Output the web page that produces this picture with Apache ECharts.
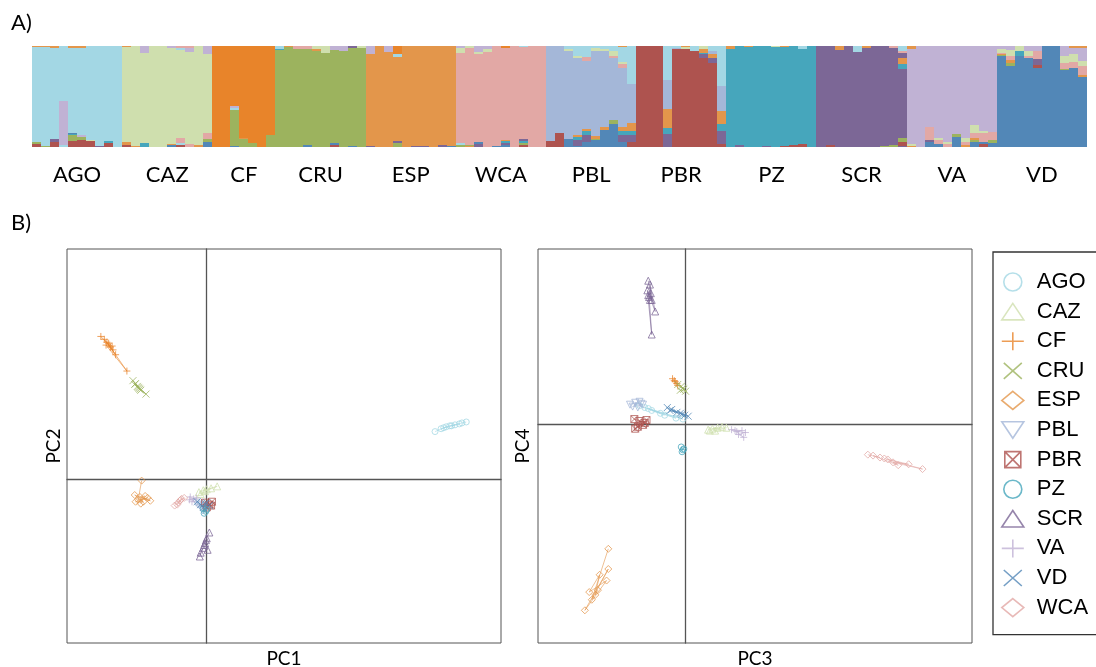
<!DOCTYPE html>
<html><head><meta charset="utf-8">
<script src="https://cdn.jsdelivr.net/npm/echarts@6/dist/echarts.min.js"></script>
<style>html,body{margin:0;padding:0;background:#fff}#c{width:1096px;height:667px}</style>
</head><body><div id="c"></div>
<script>
// ---------- clusters / populations ----------
const clusters = ['AGO','CAZ','CF','CRU','ESP','WCA','PBL','PBR','PZ','SCR','VA','VD'];
const legendOrder = ['AGO','CAZ','CF','CRU','ESP','PBL','PBR','PZ','SCR','VA','VD','WCA'];
const colors = {AGO:'#a3d7e4',CAZ:'#cfdfae',CF:'#e8842a',CRU:'#9cb35e',ESP:'#e3964b',WCA:'#e2a8a5',
  PBL:'#a4b7d8',PBR:'#ae534f',PZ:'#46a6bc',SCR:'#7c6796',VA:'#c0b2d4',VD:'#5287b7'};

// ---------- Panel A: admixture proportions (segments bottom -> top) ----------
const q_AGO = [
 ['PBR',.03,'CRU',.02,'AGO',.94,'ESP',.01],
 ['CRU',.01,'AGO',.98,'ESP',.01],
 ['PBR',.05,'SCR',.025,'AGO',.91,'ESP',.015],
 ['AGO',.02,'VA',.44,'AGO',.54],
 ['PBR',.06,'CRU',.055,'PZ',.015,'VD',.01,'AGO',.84,'ESP',.02],
 ['PBR',.065,'CRU',.035,'VA',.02,'AGO',.86,'ESP',.02],
 ['PBR',.055,'CAZ',.01,'AGO',.935],
 ['SCR',.01,'AGO',.99],
 ['PBR',.04,'PZ',.02,'AGO',.94],
 ['AGO',1]];
const q_CAZ = [
 ['PBR',.02,'ESP',.03,'CAZ',.94,'ESP',.01],
 ['ESP',.01,'CAZ',.99],
 ['PZ',.04,'CAZ',.893,'VA',.067],
 ['CAZ',1],
 ['CAZ',1],
 ['VD',.015,'ESP',.01,'CAZ',.955,'VA',.02],
 ['PBR',.015,'AGO',.025,'WCA',.045,'CAZ',.88,'AGO',.02,'WCA',.015],
 ['WCA',.025,'CAZ',.92,'VA',.04,'WCA',.015],
 ['ESP',.015,'CAZ',.985],
 ['VD',.05,'CRU',.025,'WCA',.065,'CAZ',.78,'VA',.08]];
const q_CF = [
 ['CF',1],
 ['CF',1],
 ['VD',.01,'CRU',.36,'AGO',.02,'VA',.02,'CF',.59],
 ['CRU',.08,'ESP',.01,'CF',.91],
 ['CRU',.04,'CF',.96],
 ['CF',1],
 ['CRU',.12,'CF',.88]];
const q_CRU = [
 ['CRU',.96,'PZ',.01,'AGO',.03],
 ['CRU',.99,'ESP',.01],
 ['CRU',.97,'WCA',.03],
 ['VD',.015,'CRU',.96,'WCA',.025],
 ['CRU',.95,'ESP',.02,'CAZ',.03],
 ['CRU',.935,'CAZ',.065],
 ['PBR',.02,'VD',.015,'CRU',.93,'VA',.035],
 ['CRU',.955,'VA',.045],
 ['VD',.01,'CRU',.97,'SCR',.02],
 ['CRU',.98,'CAZ',.02]];
const q_ESP = [
 ['SCR',.01,'ESP',.907,'VA',.083],
 ['ESP',1],
 ['ESP',.943,'VA',.057],
 ['CRU',.04,'SCR',.02,'ESP',.83,'AGO',.03,'CF',.08],
 ['ESP',1],
 ['SCR',.01,'ESP',.99],
 ['SCR',.01,'ESP',.99],
 ['ESP',1],
 ['SCR',.02,'ESP',.98],
 ['VD',.01,'ESP',.99]];
const q_WCA = [
 ['CRU',.02,'AGO',.02,'WCA',.89,'CAZ',.05,'VA',.02],
 ['ESP',.01,'CRU',.01,'WCA',.96,'CAZ',.02],
 ['SCR',.03,'VD',.02,'WCA',.84,'CAZ',.02,'VA',.06],
 ['WCA',.94,'CAZ',.03,'VA',.03],
 ['VD',.01,'WCA',.99],
 ['VD',.02,'SCR',.02,'PZ',.02,'ESP',.01,'WCA',.91,'CF',.02],
 ['WCA',1],
 ['PBR',.02,'CRU',.015,'PZ',.02,'SCR',.025,'WCA',.915,'AGO',.005],
 ['WCA',1],
 ['WCA',1]];
const q_PBL = [
 ['PBR',.057,'PBL',.943],
 ['PBR',.143,'PBL',.857],
 ['VD',.083,'PBL',.867,'CAZ',.02,'AGO',.03],
 ['VD',.01,'SCR',.057,'PZ',.033,'ESP',.017,'PBL',.766,'CAZ',.017,'AGO',.1],
 ['VD',.05,'SCR',.073,'PZ',.033,'ESP',.027,'PBL',.667,'WCA',.04,'AGO',.11],
 ['VD',.067,'CRU',.017,'ESP',.023,'PBL',.843,'CAZ',.033,'AGO',.017],
 ['VD',.173,'ESP',.027,'PBL',.75,'CAZ',.02,'AGO',.03],
 ['VD',.227,'CRU',.04,'PBL',.61,'WCA',.027,'CAZ',.05,'AGO',.046],
 ['VD',.05,'SCR',.067,'PZ',.04,'ESP',.04,'PBL',.59,'WCA',.033,'CAZ',.017,'AGO',.15,'ESP',.013],
 ['PBR',.05,'SCR',.067,'PZ',.04,'ESP',.077,'PBL',.39,'AGO',.377]];
const q_PBR = [
 ['PBR',1],
 ['PBR',1],
 ['PBR',1],
 ['SCR',.133,'PZ',.057,'ESP',.187,'PBL',.29,'AGO',.333],
 ['PBR',.973,'PBL',.01,'AGO',.017],
 ['PBR',.967,'CAZ',.02,'ESP',.013],
 ['PBR',.95,'AGO',.05],
 ['PBR',.883,'SCR',.033,'PZ',.017,'ESP',.033,'CAZ',.034],
 ['PBR',.833,'SCR',.05,'ESP',.033,'PBL',.034,'AGO',.05],
 ['PBR',.033,'SCR',.123,'PZ',.067,'ESP',.133,'PBL',.244,'AGO',.4]];
const q_PZ = [
 ['PZ',.973,'ESP',.027],
 ['SCR',.02,'PZ',.98],
 ['PZ',.99,'ESP',.01],
 ['PZ',1],
 ['SCR',.01,'PZ',.99],
 ['PZ',.99,'CAZ',.01],
 ['PBR',.01,'PZ',.98,'ESP',.01],
 ['PBR',.02,'PZ',.98],
 ['PBR',.033,'PZ',.934,'AGO',.033],
 ['PZ',1]];
const q_SCR = [
 ['SCR',1],
 ['PBR',.02,'SCR',.98],
 ['SCR',.96,'ESP',.04],
 ['SCR',1],
 ['SCR',.94,'AGO',.06],
 ['SCR',.977,'ESP',.023],
 ['SCR',1],
 ['CRU',.01,'SCR',.99],
 ['CRU',.017,'SCR',.96,'WCA',.023],
 ['SCR',.01,'PBR',.04,'CRU',.043,'SCR',.683,'PZ',.05,'ESP',.057,'SCR',.05,'WCA',.017,'AGO',.05]];
const q_VA = [
 ['ESP',.01,'CAZ',.017,'VA',.946,'ESP',.027],
 ['VA',1],
 ['VD',.05,'SCR',.023,'WCA',.127,'VA',.8],
 ['VD',.027,'WCA',.04,'CAZ',.023,'VA',.91],
 ['WCA',.027,'CAZ',.023,'VA',.95],
 ['VD',.1,'CRU',.033,'VA',.867],
 ['ESP',.017,'WCA',.033,'CAZ',.04,'VA',.91],
 ['VD',.05,'CRU',.017,'ESP',.023,'WCA',.05,'CAZ',.077,'VA',.783],
 ['PBR',.027,'VD',.023,'WCA',.093,'CAZ',.02,'VA',.837],
 ['VD',.04,'CRU',.033,'WCA',.077,'VA',.85]];
const q_VD = [
 ['VD',.9,'CRU',.01,'ESP',.01,'WCA',.013,'CAZ',.034,'VA',.033],
 ['VD',.8,'CRU',.033,'ESP',.027,'WCA',.04,'CAZ',.06,'VA',.04],
 ['VD',.9,'PZ',.05,'CAZ',.05],
 ['VD',.877,'WCA',.023,'CAZ',.05,'VA',.05],
 ['VD',.783,'PBR',.033,'SCR',.05,'WCA',.083,'VA',.05],
 ['VD',1],
 ['VD',1],
 ['VD',.767,'CRU',.01,'WCA',.05,'CAZ',.073,'VA',.1],
 ['VD',.783,'WCA',.057,'CAZ',.077,'VA',.067,'ESP',.016],
 ['VD',.693,'ESP',.023,'WCA',.083,'CAZ',.057,'VA',.12,'ESP',.024]];
const popOrder = ['AGO','CAZ','CF','CRU','ESP','WCA','PBL','PBR','PZ','SCR','VA','VD'];
const popQ = {AGO:q_AGO,CAZ:q_CAZ,CF:q_CF,CRU:q_CRU,ESP:q_ESP,WCA:q_WCA,PBL:q_PBL,PBR:q_PBR,PZ:q_PZ,SCR:q_SCR,VA:q_VA,VD:q_VD};

// ---------- Panel B: PCA scores ----------
const pc12_AGO = [[0.264,0.050],[0.277,0.055],[0.271,0.053],[0.287,0.057],[0.274,0.054],[0.281,0.056],[0.292,0.058],[0.283,0.056],[0.295,0.059],[0.300,0.060]];
const pc12_CAZ = [[-0.008,-0.013],[0.001,-0.010],[-0.003,-0.011],[0.013,-0.007],[-0.001,-0.012],[0.006,-0.009],[-0.006,-0.015]];
const pc12_CF  = [[-0.121,0.149],[-0.110,0.138],[-0.117,0.146],[-0.104,0.130],[-0.114,0.143],[-0.091,0.113],[-0.115,0.140],[-0.107,0.135],[-0.112,0.142],[-0.108,0.139]];
const pc12_CRU = [[-0.084,0.103],[-0.079,0.097],[-0.082,0.099],[-0.076,0.094],[-0.081,0.100],[-0.069,0.089],[-0.077,0.095],[-0.078,0.096],[-0.075,0.093]];
const pc12_ESP = [[-0.074,-0.001],[-0.078,-0.021],[-0.067,-0.019],[-0.081,-0.023],[-0.072,-0.023],[-0.082,-0.016],[-0.064,-0.022],[-0.076,-0.018],[-0.070,-0.017],[-0.075,-0.025]];
const pc12_PBL = [[-0.011,-0.024],[-0.002,-0.030],[-0.009,-0.026],[0.000,-0.029],[-0.004,-0.032],[-0.007,-0.027]];
const pc12_PBR = [[-0.001,-0.024],[0.004,-0.026],[0.007,-0.023],[0.001,-0.029],[0.006,-0.027]];
const pc12_PZ  = [[-0.003,-0.030],[0.000,-0.033],[-0.002,-0.035],[0.001,-0.031]];
const pc12_SCR = [[0.004,-0.055],[0.001,-0.061],[-0.001,-0.066],[0.002,-0.073],[-0.003,-0.071],[-0.006,-0.076],[-0.007,-0.080],[-0.002,-0.068],[0.000,-0.063]];
const pc12_VA  = [[-0.018,-0.018],[-0.014,-0.020],[-0.016,-0.023],[-0.011,-0.019],[-0.019,-0.021]];
const pc12_VD  = [[-0.010,-0.023],[-0.006,-0.026],[-0.001,-0.025],[0.004,-0.027],[-0.003,-0.029],[0.001,-0.024]];
const pc12_WCA = [[-0.036,-0.027],[-0.030,-0.022],[-0.033,-0.026],[-0.028,-0.020],[-0.032,-0.024],[-0.025,-0.019],[-0.029,-0.021]];

const pc34_AGO = [[-0.053,0.019],[-0.029,0.011],[-0.043,0.016],[-0.003,0.005],[-0.047,0.017],[-0.011,0.006],[-0.039,0.014],[-0.024,0.009]];
const pc34_CAZ = [[0.026,-0.006],[0.037,-0.004],[0.031,-0.005],[0.047,-0.004],[0.034,-0.007],[0.042,-0.003],[0.028,-0.007]];
const pc34_CF  = [[-0.015,0.047],[-0.010,0.042],[-0.013,0.045],[-0.009,0.040],[-0.012,0.044]];
const pc34_CRU = [[-0.009,0.041],[-0.002,0.036],[-0.005,0.039],[0.000,0.034],[-0.006,0.035],[-0.003,0.037]];
const pc34_ESP = [[-0.089,-0.130],[-0.108,-0.183],[-0.089,-0.151],[-0.116,-0.194],[-0.091,-0.163],[-0.111,-0.175],[-0.099,-0.157],[-0.104,-0.178],[-0.101,-0.173]];
const pc34_PBL = [[-0.064,0.020],[-0.053,0.023],[-0.061,0.018],[-0.049,0.020],[-0.058,0.022],[-0.055,0.017],[-0.051,0.021]];
const pc34_PBR = [[-0.059,0.005],[-0.047,0.001],[-0.053,0.003],[-0.058,-0.005],[-0.049,-0.001],[-0.055,-0.003],[-0.045,0.004]];
const pc34_PZ  = [[-0.005,-0.024],[-0.003,-0.027],[-0.004,-0.029],[-0.002,-0.026]];
const pc34_SCR = [[-0.043,0.149],[-0.039,0.129],[-0.041,0.145],[-0.035,0.117],[-0.044,0.139],[-0.039,0.093],[-0.042,0.132],[-0.040,0.136],[-0.043,0.134],[-0.041,0.129]];
const pc34_VA  = [[0.053,-0.006],[0.065,-0.007],[0.059,-0.008],[0.069,-0.009],[0.061,-0.011],[0.067,-0.014],[0.057,-0.007]];
const pc34_VD  = [[-0.021,0.017],[-0.010,0.012],[-0.016,0.015],[0.003,0.008],[-0.004,0.010],[-0.018,0.014],[-0.006,0.011],[-0.001,0.009]];
const pc34_WCA = [[0.210,-0.032],[0.224,-0.035],[0.216,-0.033],[0.245,-0.043],[0.233,-0.037],[0.273,-0.047],[0.239,-0.040],[0.257,-0.042],[0.229,-0.036]];

const pc12 = {AGO:pc12_AGO,CAZ:pc12_CAZ,CF:pc12_CF,CRU:pc12_CRU,ESP:pc12_ESP,PBL:pc12_PBL,PBR:pc12_PBR,PZ:pc12_PZ,SCR:pc12_SCR,VA:pc12_VA,VD:pc12_VD,WCA:pc12_WCA};
const pc34 = {AGO:pc34_AGO,CAZ:pc34_CAZ,CF:pc34_CF,CRU:pc34_CRU,ESP:pc34_ESP,PBL:pc34_PBL,PBR:pc34_PBR,PZ:pc34_PZ,SCR:pc34_SCR,VA:pc34_VA,VD:pc34_VD,WCA:pc34_WCA};

// ---------- marker shapes ----------
const markers = {
  AGO:'circle', PZ:'circle',
  CAZ:'path://M0,17L10,0L20,17Z', SCR:'path://M0,17L10,0L20,17Z',
  CF:'path://M10,0L10,20M0,10L20,10', VA:'path://M10,0L10,20M0,10L20,10',
  CRU:'path://M0,0L20,20M20,0L0,20', VD:'path://M0,0L20,20M20,0L0,20',
  ESP:'path://M10,0L20,10L10,20L0,10Z', WCA:'path://M10,0L20,10L10,20L0,10Z',
  PBL:'path://M0,0L20,0L10,17Z',
  PBR:'path://M0,0L20,0L20,20L0,20ZM0,0L20,20M20,0L0,20'
};
const legendIcons = {
  AGO:'circle', PZ:'circle',
  CAZ:'path://M1,16L11,1L21,16Z', SCR:'path://M1,16L11,1L21,16Z',
  CF:'path://M11,0L11,18M0,9L22,9', VA:'path://M11,0L11,18M0,9L22,9',
  CRU:'path://M0,0M22,18M2,1L20,17M20,1L2,17', VD:'path://M0,0M22,18M2,1L20,17M20,1L2,17',
  ESP:'path://M11,0L22,9L11,18L0,9Z', WCA:'path://M11,0L22,9L11,18L0,9Z',
  PBL:'path://M1,1L21,1L11,16Z',
  PBR:'path://M0,0M22,18M3,1L19,1L19,17L3,17ZM3,1L19,17M19,1L3,17'
};

// ---------- build structure segments ----------
const segs = [];
const labelMap = {};
const labelCenters = [];
let ind = 0;
popOrder.forEach(p => {
  const arr = popQ[p];
  const c = ind + arr.length / 2;
  labelCenters.push(c); labelMap[String(c)] = p;
  arr.forEach(q => {
    let tot = 0; for (let i = 1; i < q.length; i += 2) tot += q[i];
    let y = 0;
    for (let i = 0; i < q.length; i += 2) {
      const f = q[i + 1] / tot;
      segs.push([ind, ind + 1, y, y + f, clusters.indexOf(q[i])]);
      y += f;
    }
    ind++;
  });
});
const nInd = ind;

const series = [{
  type: 'custom', xAxisIndex: 0, yAxisIndex: 0, silent: true,
  encode: {x: [0, 1], y: [2, 3]},
  data: segs,
  renderItem: function (params, api) {
    const p0 = api.coord([api.value(0), api.value(3)]);
    const p1 = api.coord([api.value(1), api.value(2)]);
    const x0 = Math.round(p0[0]), x1 = Math.round(p1[0]);
    const y0 = Math.round(p0[1]), y1 = Math.round(p1[1]);
    const col = colors[clusters[api.value(4)]];
    return {type: 'rect', shape: {x: x0, y: y0, width: x1 - x0, height: y1 - y0},
      style: {fill: col}};
  }
}];

legendOrder.forEach(p => {
  [[pc12[p], 1], [pc34[p], 2]].forEach(([d, ax]) => {
    series.push({
      type: 'line', name: p, xAxisIndex: ax, yAxisIndex: ax, data: d,
      symbol: markers[p], symbolSize: p === 'AGO' || p === 'PZ' ? 6 : 7,
      itemStyle: {color: 'rgba(0,0,0,0)', borderColor: colors[p], borderWidth: 0.9, opacity: 0.85},
      lineStyle: {color: colors[p], width: 0.8, opacity: 0.75},
      emphasis: {disabled: true}, z: 3
    });
  });
});

const zeroAxis = {
  type: 'value', axisTick: {show: false}, axisLabel: {show: false}, splitLine: {show: false},
  axisLine: {onZero: true, lineStyle: {color: '#555', width: 1.3}}
};
const nameAxis = {
  type: 'value', min: 0, max: 1, axisTick: {show: false}, axisLabel: {show: false}, splitLine: {show: false},
  axisLine: {show: false, onZero: false}, nameLocation: 'middle',
  nameTextStyle: {fontFamily: 'Lato', fontSize: 19, color: '#000'}
};

const option = {
  animation: false,
  backgroundColor: '#fff',
  title: [
    {text: 'A)', left: 11, top: 12, padding: 0, textStyle: {fontFamily: 'Lato', fontSize: 22, fontWeight: 'normal', color: '#000'}},
    {text: 'B)', left: 11, top: 212, padding: 0, textStyle: {fontFamily: 'Lato', fontSize: 22, fontWeight: 'normal', color: '#000'}}
  ],
  legend: {
    orient: 'vertical', left: 993, top: 252, padding: [19, 16, 16, 8],
    itemWidth: 22, itemHeight: 18, itemGap: 7.6,
    borderColor: '#333', borderWidth: 1.3,
    selectedMode: false,
    textStyle: {fontFamily: 'Liberation Sans', fontSize: 22, color: '#000', padding: [0, 0, 0, 8]},
    data: legendOrder.map(p => ({name: p, icon: legendIcons[p],
      itemStyle: {color: 'rgba(0,0,0,0)', borderColor: colors[p], borderWidth: 1.6, opacity: 0.8}}))
  },
  grid: [
    {left: 32, top: 46, width: 1055, height: 101, outerBoundsMode: 'none', containLabel: false},
    {left: 67, top: 249, width: 434, height: 394, show: true, borderColor: '#555', borderWidth: 1, outerBoundsMode: 'none', containLabel: false},
    {left: 538, top: 249, width: 434, height: 394, show: true, borderColor: '#555', borderWidth: 1, outerBoundsMode: 'none', containLabel: false}
  ],
  xAxis: [
    {type: 'value', gridIndex: 0, min: 0, max: nInd, axisLine: {show: false}, axisTick: {show: false}, splitLine: {show: false},
      axisLabel: {customValues: labelCenters, formatter: v => labelMap[String(v)] || '', margin: 17,
        fontFamily: 'Lato', fontSize: 22, color: '#000'}},
    Object.assign({}, zeroAxis, {gridIndex: 1, min: -0.16, max: 0.34, position: 'bottom'}),
    Object.assign({}, zeroAxis, {gridIndex: 2, min: -0.17, max: 0.33, position: 'bottom'}),
    Object.assign({}, nameAxis, {gridIndex: 1, position: 'bottom', name: 'PC1', nameGap: 6}),
    Object.assign({}, nameAxis, {gridIndex: 2, position: 'bottom', name: 'PC3', nameGap: 6})
  ],
  yAxis: [
    {type: 'value', gridIndex: 0, min: 0, max: 1, show: false},
    Object.assign({}, zeroAxis, {gridIndex: 1, min: -0.17, max: 0.24, position: 'left'}),
    Object.assign({}, zeroAxis, {gridIndex: 2, min: -0.228, max: 0.182, position: 'left'}),
    Object.assign({}, nameAxis, {gridIndex: 1, position: 'left', name: 'PC2', nameGap: 4}),
    Object.assign({}, nameAxis, {gridIndex: 2, position: 'left', name: 'PC4', nameGap: 6})
  ],
  series: series
};

const chart = echarts.init(document.getElementById('c'), null, {renderer: 'canvas'});
chart.setOption(option);
</script>
</body></html>
